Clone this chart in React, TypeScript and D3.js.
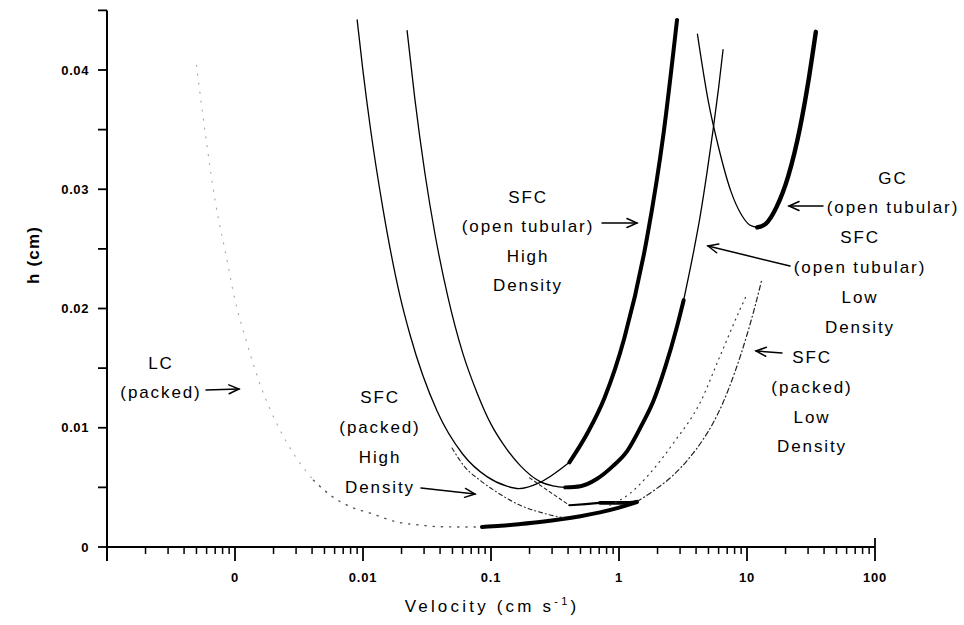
import React from "react";
import * as d3 from "d3";

// Plate height h versus linear velocity for LC, SFC and GC columns.

const WIDTH = 964;
const HEIGHT = 625;

// Axis ticks
const xDecades = [1e-4, 1e-3, 1e-2, 1e-1, 1, 10, 100];
const xDecadeLabels = ["", "0", "0.01", "0.1", "1", "10", "100"];
const yTickValues = [0, 0.005, 0.01, 0.015, 0.02, 0.025, 0.03, 0.035, 0.04, 0.045];
const yTickLabels = ["0", "", "0.01", "", "0.02", "", "0.03", "", "0.04", ""];

// LC (packed): faint dotted upper branch, darker dotted bottom, thick working range
const lcUpperVelocity = [0.0005, 0.0006, 0.0007, 0.00085, 0.001, 0.0012, 0.0016, 0.0022, 0.003, 0.0041];
const lcUpperHeight = [0.0404, 0.0339, 0.029, 0.0245, 0.0207, 0.0176, 0.0134, 0.01, 0.0075, 0.0056];
const lcLowerVelocity = [0.0041, 0.0058, 0.0083, 0.0113, 0.0184, 0.028, 0.04, 0.065, 0.085];
const lcLowerHeight = [0.0056, 0.0042, 0.0033, 0.00285, 0.0021, 0.00184, 0.0017, 0.00168, 0.00168];
const lcThickVelocity = [0.085, 0.12, 0.17, 0.25, 0.35, 0.5, 0.71, 1.0, 1.38];
const lcThickHeight = [0.00168, 0.00178, 0.00193, 0.00212, 0.00232, 0.00258, 0.0029, 0.0033, 0.00377];

// SFC (packed) high density – dash-dot branch
const pkHighVelocity = [0.0496, 0.0626, 0.082, 0.111, 0.169, 0.264, 0.39];
const pkHighHeight = [0.0083, 0.0067, 0.0056, 0.0046, 0.0035, 0.0028, 0.0024];

// SFC (packed) low density – dashed approach, thick part, dash-dot and dotted branches
const pkLowApproachVelocity = [0.2, 0.29, 0.41];
const pkLowApproachHeight = [0.0058, 0.0046, 0.0035];
const pkLowThinEndVelocity = [0.41, 0.55, 0.71];
const pkLowThinEndHeight = [0.0035, 0.0036, 0.0037];
const pkLowThickVelocity = [0.71, 0.95, 1.2, 1.38];
const pkLowThickHeight = [0.0037, 0.0037, 0.0037, 0.0038];
const pkLowDashVelocity = [1.38, 1.91, 2.64, 3.5, 4.53, 5.5, 6.49, 8.0, 10.0, 11.5, 13.1];
const pkLowDashHeight = [0.0038, 0.0048, 0.006, 0.0074, 0.009, 0.0105, 0.0121, 0.0146, 0.0178, 0.0201, 0.0225];
const pkLowDotVelocity = [0.85, 1.22, 1.75, 2.74, 4.3, 6.15, 8.8, 10.0];
const pkLowDotHeight = [0.0035, 0.0045, 0.0062, 0.0089, 0.0121, 0.016, 0.0199, 0.0212];

// SFC (open tubular) high density
const otHighThinVelocity = [0.009, 0.01, 0.0114, 0.0143, 0.0195, 0.0233, 0.0379, 0.06, 0.093, 0.133, 0.165, 0.24, 0.41];
const otHighThinHeight = [0.0442, 0.0399, 0.0352, 0.0284, 0.021, 0.0178, 0.0114, 0.0078, 0.0059, 0.0051, 0.0049, 0.0054, 0.0071];
const otHighThickVelocity = [0.41, 0.57, 0.77, 1.1, 1.66, 2.23, 2.84];
const otHighThickHeight = [0.0071, 0.0096, 0.0125, 0.0175, 0.026, 0.0347, 0.0442];

// SFC (open tubular) low density
const otLowThinVelocity = [0.0221, 0.0254, 0.0305, 0.0367, 0.046, 0.06, 0.078, 0.1, 0.125, 0.17, 0.24, 0.31, 0.38];
const otLowThinHeight = [0.0433, 0.0376, 0.0313, 0.0261, 0.021, 0.0163, 0.0129, 0.0103, 0.0086, 0.0068, 0.0055, 0.0051, 0.005];
const otLowThickVelocity = [0.38, 0.5, 0.67, 0.9, 1.15, 1.5, 1.85, 2.3, 2.84, 3.2];
const otLowThickHeight = [0.005, 0.0051, 0.0057, 0.0068, 0.008, 0.0102, 0.0122, 0.0151, 0.0185, 0.0207];
const otLowTopVelocity = [3.2, 3.8, 4.3, 4.9, 5.42, 6.0, 6.5];
const otLowTopHeight = [0.0207, 0.0246, 0.0277, 0.0316, 0.0349, 0.0385, 0.0417];

// GC (open tubular)
const gcThinVelocity = [4.1, 5.0, 6.0, 7.5, 9.0, 10.5, 12.0];
const gcThinHeight = [0.043, 0.0373, 0.0335, 0.0298, 0.0279, 0.027, 0.0268];
const gcThickVelocity = [12, 14, 17, 21, 26, 30, 34.5];
const gcThickHeight = [0.0268, 0.0271, 0.0285, 0.0311, 0.0352, 0.0389, 0.0432];

const FONT = "'Liberation Sans', Arial, Helvetica, sans-serif";

const x = d3.scaleLog().domain([1e-4, 100]).range([107, 875]);
const y = d3.scaleLinear().domain([0, 0.045]).range([547, 547 - 0.045 * 11925]);

type Seg = { u: number[]; h: number[]; width: number; dash?: string; color?: string };

const segments: Seg[] = [
  { u: lcUpperVelocity, h: lcUpperHeight, width: 1.2, dash: "1 8", color: "#a8a8a8" },
  { u: lcLowerVelocity, h: lcLowerHeight, width: 1.4, dash: "1.2 7", color: "#555" },
  { u: lcThickVelocity, h: lcThickHeight, width: 4 },
  { u: pkHighVelocity, h: pkHighHeight, width: 1.1, dash: "4 3 1 3", color: "#222" },
  { u: pkLowApproachVelocity, h: pkLowApproachHeight, width: 1.1, dash: "3 3", color: "#222" },
  { u: pkLowThinEndVelocity, h: pkLowThinEndHeight, width: 2.2 },
  { u: pkLowThickVelocity, h: pkLowThickHeight, width: 3.6 },
  { u: pkLowDashVelocity, h: pkLowDashHeight, width: 1.2, dash: "5 3 1 3", color: "#222" },
  { u: pkLowDotVelocity, h: pkLowDotHeight, width: 1.2, dash: "1 5", color: "#333" },
  { u: otHighThinVelocity, h: otHighThinHeight, width: 1.3 },
  { u: otHighThickVelocity, h: otHighThickHeight, width: 4 },
  { u: otLowThinVelocity, h: otLowThinHeight, width: 1.3 },
  { u: otLowThickVelocity, h: otLowThickHeight, width: 4 },
  { u: otLowTopVelocity, h: otLowTopHeight, width: 1.3 },
  { u: gcThinVelocity, h: gcThinHeight, width: 1.3 },
  { u: gcThickVelocity, h: gcThickHeight, width: 4.4 },
];

const line = d3
  .line<[number, number]>()
  .x((d) => x(d[0]))
  .y((d) => y(d[1]))
  .curve(d3.curveMonotoneX);

type Label = { lines: string[]; x: number; y: number[] };
const labels: Label[] = [
  { lines: ["LC", "(packed)"], x: 161, y: [363, 392] },
  { lines: ["SFC", "(packed)", "High", "Density"], x: 380, y: [397, 427, 457, 487] },
  { lines: ["SFC", "(open tubular)", "High", "Density"], x: 528, y: [197, 226, 256, 285] },
  { lines: ["GC", "(open tubular)"], x: 893, y: [178, 207] },
  { lines: ["SFC", "(open tubular)", "Low", "Density"], x: 860, y: [237, 267, 297, 327] },
  { lines: ["SFC", "(packed)", "Low", "Density"], x: 812, y: [357, 387, 417, 446] },
];

const arrows: [number, number, number, number][] = [
  [206, 390, 239, 389],
  [421, 488, 475, 494],
  [602, 223, 637, 223],
  [823, 206, 789, 206],
  [790, 266, 708, 246],
  [782, 353, 756, 351],
];

function Arrow({ a }: { a: [number, number, number, number] }) {
  const [x1, y1, x2, y2] = a;
  const ang = Math.atan2(y2 - y1, x2 - x1);
  const len = 11;
  const spread = 0.42;
  const p1 = [x2 - len * Math.cos(ang - spread), y2 - len * Math.sin(ang - spread)];
  const p2 = [x2 - len * Math.cos(ang + spread), y2 - len * Math.sin(ang + spread)];
  return (
    <g stroke="#000" strokeWidth={1.5} fill="none" strokeLinecap="round">
      <line x1={x1} y1={y1} x2={x2} y2={y2} />
      <polyline points={`${p1[0]},${p1[1]} ${x2},${y2} ${p2[0]},${p2[1]}`} />
    </g>
  );
}

export default function App() {
  const minorTicks: number[] = [];
  for (let i = 0; i < xDecades.length - 1; i++) {
    for (let k = 2; k <= 9; k++) minorTicks.push(xDecades[i] * k);
  }
  const y0 = y(0);

  return (
    <svg
      width={WIDTH}
      height={HEIGHT}
      viewBox={`0 0 ${WIDTH} ${HEIGHT}`}
      style={{ position: "absolute", left: 0, top: 0, background: "#fff" }}
      fontFamily={FONT}
    >
      <rect width={WIDTH} height={HEIGHT} fill="#fff" />

      {/* y axis */}
      <line x1={x(1e-4)} x2={x(1e-4)} y1={y(0.045)} y2={y0 + 14} stroke="#000" strokeWidth={2} />
      {yTickValues.map((v, i) => (
        <g key={"yt" + i}>
          <line x1={x(1e-4) - 9} x2={x(1e-4)} y1={y(v)} y2={y(v)} stroke="#000" strokeWidth={1.8} />
          {yTickLabels[i] && (
            <text x={89} y={y(v)} dy="0.36em" textAnchor="end" fontSize={13} fontWeight="bold" letterSpacing={0.6}>
              {yTickLabels[i]}
            </text>
          )}
        </g>
      ))}

      {/* x axis */}
      <line x1={x(1e-4)} x2={x(100)} y1={y0} y2={y0} stroke="#000" strokeWidth={2} />
      {minorTicks.map((v, i) => (
        <line key={"mt" + i} x1={x(v)} x2={x(v)} y1={y0} y2={y0 + 7} stroke="#000" strokeWidth={1.5} />
      ))}
      {xDecades.map((v, i) => (
        <g key={"xt" + i}>
          <line x1={x(v)} x2={x(v)} y1={i === xDecades.length - 1 ? y0 - 9 : y0} y2={y0 + 14} stroke="#000" strokeWidth={1.8} />
          {xDecadeLabels[i] && (
            <text x={x(v)} y={577} dy="0.36em" textAnchor="middle" fontSize={13} fontWeight="bold" letterSpacing={0.8}>
              {xDecadeLabels[i]}
            </text>
          )}
        </g>
      ))}

      {/* axis titles */}
      <text x={492} y={606} dy="0.36em" textAnchor="middle" fontSize={17} letterSpacing={3.2}>
        Velocity (cm s
        <tspan fontSize={11} dy="-7">-1</tspan>
        <tspan dy="7">)</tspan>
      </text>
      <text
        transform={`translate(33,255) rotate(-90)`}
        textAnchor="middle"
        dy="0.36em"
        fontSize={17}
        fontWeight="bold"
        letterSpacing={1.2}
      >
        h (cm)
      </text>

      {/* curves */}
      {segments.map((s, i) => (
        <path
          key={"c" + i}
          d={line(s.u.map((u, j) => [u, s.h[j]] as [number, number])) || ""}
          fill="none"
          stroke={s.color || "#000"}
          strokeWidth={s.width}
          strokeDasharray={s.dash}
          strokeLinecap="round"
          strokeLinejoin="round"
        />
      ))}

      {/* annotations */}
      {arrows.map((a, i) => (
        <Arrow key={"a" + i} a={a} />
      ))}
      {labels.map((lb, i) => (
        <g key={"l" + i}>
          {lb.lines.map((t, j) => (
            <text key={j} x={lb.x} y={lb.y[j]} dy="0.36em" textAnchor="middle" fontSize={17} letterSpacing={1.9}>
              {t}
            </text>
          ))}
        </g>
      ))}
    </svg>
  );
}
